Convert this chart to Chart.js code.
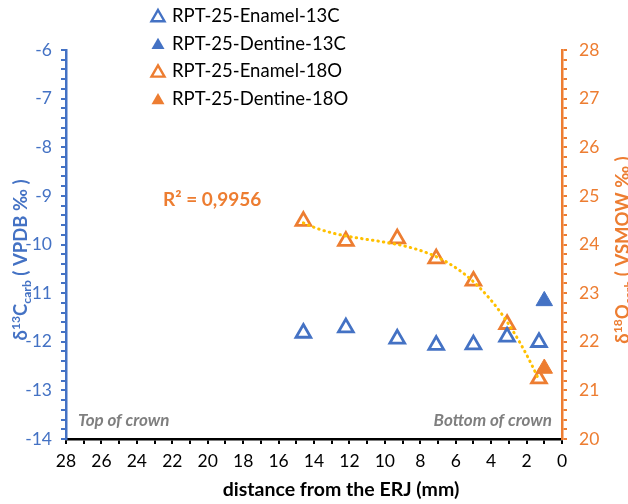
<!DOCTYPE html>
<html>
<head>
<meta charset="utf-8">
<script src="https://cdn.jsdelivr.net/npm/chart.js@4.4.1/dist/chart.umd.min.js"></script>
<style>
  body { margin: 0; background: #fff; }
</style>
</head>
<body>
<canvas id="chart_iso" width="628" height="504"></canvas>
<script>
// distance from the ERJ (mm) and isotope values of each sample
let enamelDist = [14.6, 12.2, 9.3, 7.1, 5.0, 3.1, 1.3];
let enamel13C = [-11.82, -11.71, -11.94, -12.07, -12.06, -11.90, -12.01];
let enamel18O = [24.48, 24.07, 24.12, 23.71, 23.25, 22.36, 21.24];
let dentineDist = [1.0];
let dentine13C = [-11.16];
let dentine18O = [21.45];

let seriesNames = ['RPT-25-Enamel-13C', 'RPT-25-Dentine-13C', 'RPT-25-Enamel-18O', 'RPT-25-Dentine-18O'];
let r2Label = 'R\u00b2 = 0,9956';

const BLUE = '#4472C4';
const ORANGE = '#ED7D31';
const FONT = 'Lato, "Open Sans", sans-serif';

function toPoints(xs, ys) {
    return xs.map((x, i) => ({ x: x, y: ys[i] }));
}

// least squares polynomial, used for the d18O enamel trendline
function polyFit(xs, ys, deg) {
    const n = deg + 1;
    const A = [];
    for (let i = 0; i < n; i++) A.push(new Array(n + 1).fill(0));
    for (let k = 0; k < xs.length; k++) {
        for (let i = 0; i < n; i++) {
            for (let j = 0; j < n; j++) A[i][j] += Math.pow(xs[k], i + j);
            A[i][n] += ys[k] * Math.pow(xs[k], i);
        }
    }
    for (let i = 0; i < n; i++) {
        let p = i;
        for (let r = i + 1; r < n; r++) if (Math.abs(A[r][i]) > Math.abs(A[p][i])) p = r;
        [A[i], A[p]] = [A[p], A[i]];
        for (let r = i + 1; r < n; r++) {
            const f = A[r][i] / A[i][i];
            for (let c = i; c <= n; c++) A[r][c] -= f * A[i][c];
        }
    }
    const coef = new Array(n).fill(0);
    for (let i = n - 1; i >= 0; i--) {
        let s = A[i][n];
        for (let j = i + 1; j < n; j++) s -= A[i][j] * coef[j];
        coef[i] = s / A[i][i];
    }
    return coef;
}

let coef = polyFit(enamelDist, enamel18O, 3);
let trend = [];
let lo = Math.min(...enamelDist), hi = Math.max(...enamelDist);
for (let i = 0; i <= 60; i++) {
    const x = hi - (hi - lo) * i / 60;
    trend.push({ x: x, y: coef.reduce((s, c, k) => s + c * Math.pow(x, k), 0) });
}

// rotated axis title with super/subscript pieces
function drawRich(ctx, parts, bx, cy, size, color) {
    ctx.save();
    ctx.translate(bx, cy);
    ctx.rotate(-Math.PI / 2);
    ctx.fillStyle = color;
    ctx.textBaseline = 'alphabetic';
    ctx.textAlign = 'left';
    let total = 0;
    parts.forEach(p => {
        const fs = p[1] ? size * 0.66 : size;
        ctx.font = 'bold ' + fs + 'px ' + FONT;
        p.w = ctx.measureText(p[0]).width;
        total += p.w;
    });
    let x = -total / 2;
    parts.forEach(p => {
        const fs = p[1] ? size * 0.66 : size;
        ctx.font = 'bold ' + fs + 'px ' + FONT;
        const dy = p[1] === 'sup' ? -size * 0.38 : p[1] === 'sub' ? size * 0.22 : 0;
        ctx.fillText(p[0], x, dy);
        x += p.w;
    });
    ctx.restore();
}

function triangle(ctx, x, y, r, color, filled) {
    ctx.beginPath();
    ctx.moveTo(x, y - r);
    ctx.lineTo(x + r * Math.sqrt(3) / 2, y + r / 2);
    ctx.lineTo(x - r * Math.sqrt(3) / 2, y + r / 2);
    ctx.closePath();
    if (filled) {
        ctx.fillStyle = color;
        ctx.fill();
    } else {
        ctx.strokeStyle = color;
        ctx.lineWidth = 2.4;
        ctx.stroke();
    }
}

const textPlugin = {
    id: 'textPlugin',
    afterDraw(chart) {
        const ctx = chart.ctx;

        // legend column
        const legendStyle = [[BLUE, false], [BLUE, true], [ORANGE, false], [ORANGE, true]];
        ctx.save();
        ctx.font = '18.5px ' + FONT;
        ctx.textBaseline = 'middle';
        ctx.textAlign = 'left';
        seriesNames.forEach((name, i) => {
            const y = 16 + i * 27.7;
            triangle(ctx, 158, y + 1.5, 7.5, legendStyle[i][0], legendStyle[i][1]);
            ctx.fillStyle = '#000';
            ctx.fillText(name, 172, y);
        });

        // R squared of the trendline
        ctx.font = 'bold 19px ' + FONT;
        ctx.fillStyle = ORANGE;
        ctx.fillText(r2Label, 163, 200);

        // crown annotations
        ctx.font = 'italic bold 17px ' + FONT;
        ctx.fillStyle = '#7F7F7F';
        ctx.fillText('Top of crown', 78, 421);
        ctx.textAlign = 'right';
        ctx.fillText('Bottom of crown', 552, 421);

        // x title
        ctx.textAlign = 'center';
        ctx.fillStyle = '#000';
        ctx.font = 'bold 19.5px ' + FONT;
        ctx.fillText('distance from the ERJ (mm)', 341, 490);
        ctx.restore();

        drawRich(ctx, [['\u03b4'], ['13', 'sup'], ['C'], ['carb', 'sub'], [' ( VPDB \u2030 )']], 27, 260, 18.5, BLUE);
        drawRich(ctx, [['\u03b4'], ['18', 'sup'], ['O'], ['carb', 'sub'], [' ( VSMOW \u2030 )']], 629, 250, 18.5, ORANGE);
    }
};

function minorLabel(v) {
    return Math.abs(v - Math.round(v)) < 1e-6 ? String(Math.round(v)) : '';
}

let ctx_iso = document.getElementById('chart_iso');

let chart_iso = new Chart(ctx_iso, {
    type: 'scatter',
    data: {
        datasets: [{
            label: 'trend',
            data: trend,
            yAxisID: 'y2',
            showLine: true,
            borderColor: '#FFC000',
            borderWidth: 3,
            borderDash: [0.5, 5],
            borderCapStyle: 'round',
            pointRadius: 0,
            order: -1
        }, {
            label: seriesNames[0],
            data: toPoints(enamelDist, enamel13C),
            yAxisID: 'y',
            pointStyle: 'triangle',
            pointRadius: 8.5,
            borderWidth: 2.8,
            borderColor: BLUE,
            backgroundColor: 'rgba(0,0,0,0)'
        }, {
            label: seriesNames[1],
            data: toPoints(dentineDist, dentine13C),
            yAxisID: 'y',
            pointStyle: 'triangle',
            pointRadius: 9.5,
            borderWidth: 1,
            borderColor: BLUE,
            backgroundColor: BLUE
        }, {
            label: seriesNames[2],
            data: toPoints(enamelDist, enamel18O),
            yAxisID: 'y2',
            pointStyle: 'triangle',
            pointRadius: 8.5,
            borderWidth: 2.8,
            borderColor: ORANGE,
            backgroundColor: 'rgba(0,0,0,0)'
        }, {
            label: seriesNames[3],
            data: toPoints(dentineDist, dentine18O),
            yAxisID: 'y2',
            pointStyle: 'triangle',
            pointRadius: 9.5,
            borderWidth: 1,
            borderColor: ORANGE,
            backgroundColor: ORANGE
        }]
    },
    options: {
        maintainAspectRatio: false,
        responsive: false,
        animation: false,
        layout: { padding: { top: 50, left: 0, right: 0, bottom: 0 } },
        plugins: {
            legend: { display: false },
            tooltip: { enabled: false }
        },
        scales: {
            x: {
                type: 'linear',
                reverse: true,
                min: 0,
                max: 28,
                afterFit: s => { s.height = 65; },
                border: { color: '#000', width: 2.5 },
                grid: { drawOnChartArea: false, drawTicks: true, tickLength: 5, color: '#000', lineWidth: 2 },
                ticks: {
                    stepSize: 1,
                    autoSkip: false,
                    maxRotation: 0,
                    padding: 7,
                    color: '#000',
                    font: { family: FONT, size: 17.5 },
                    callback: v => (v % 2 === 0 ? String(v) : '')
                }
            },
            y: {
                position: 'left',
                min: -14,
                max: -6,
                afterFit: s => { s.width = 66; },
                border: { color: BLUE, width: 2.5 },
                grid: { drawOnChartArea: false, drawTicks: true, tickLength: 5, color: BLUE, lineWidth: 2 },
                ticks: {
                    stepSize: 0.2,
                    autoSkip: false,
                    padding: 9,
                    color: BLUE,
                    font: { family: FONT, size: 17.5 },
                    callback: minorLabel
                }
            },
            y2: {
                position: 'right',
                min: 20,
                max: 28,
                afterFit: s => { s.width = 66; },
                border: { color: ORANGE, width: 2.5 },
                grid: { drawOnChartArea: false, drawTicks: true, tickLength: 5, color: ORANGE, lineWidth: 2 },
                ticks: {
                    stepSize: 0.2,
                    autoSkip: false,
                    padding: 12,
                    color: ORANGE,
                    font: { family: FONT, size: 17.5 },
                    callback: minorLabel
                }
            }
        }
    },
    plugins: [textPlugin]
});
</script>
</body>
</html>
